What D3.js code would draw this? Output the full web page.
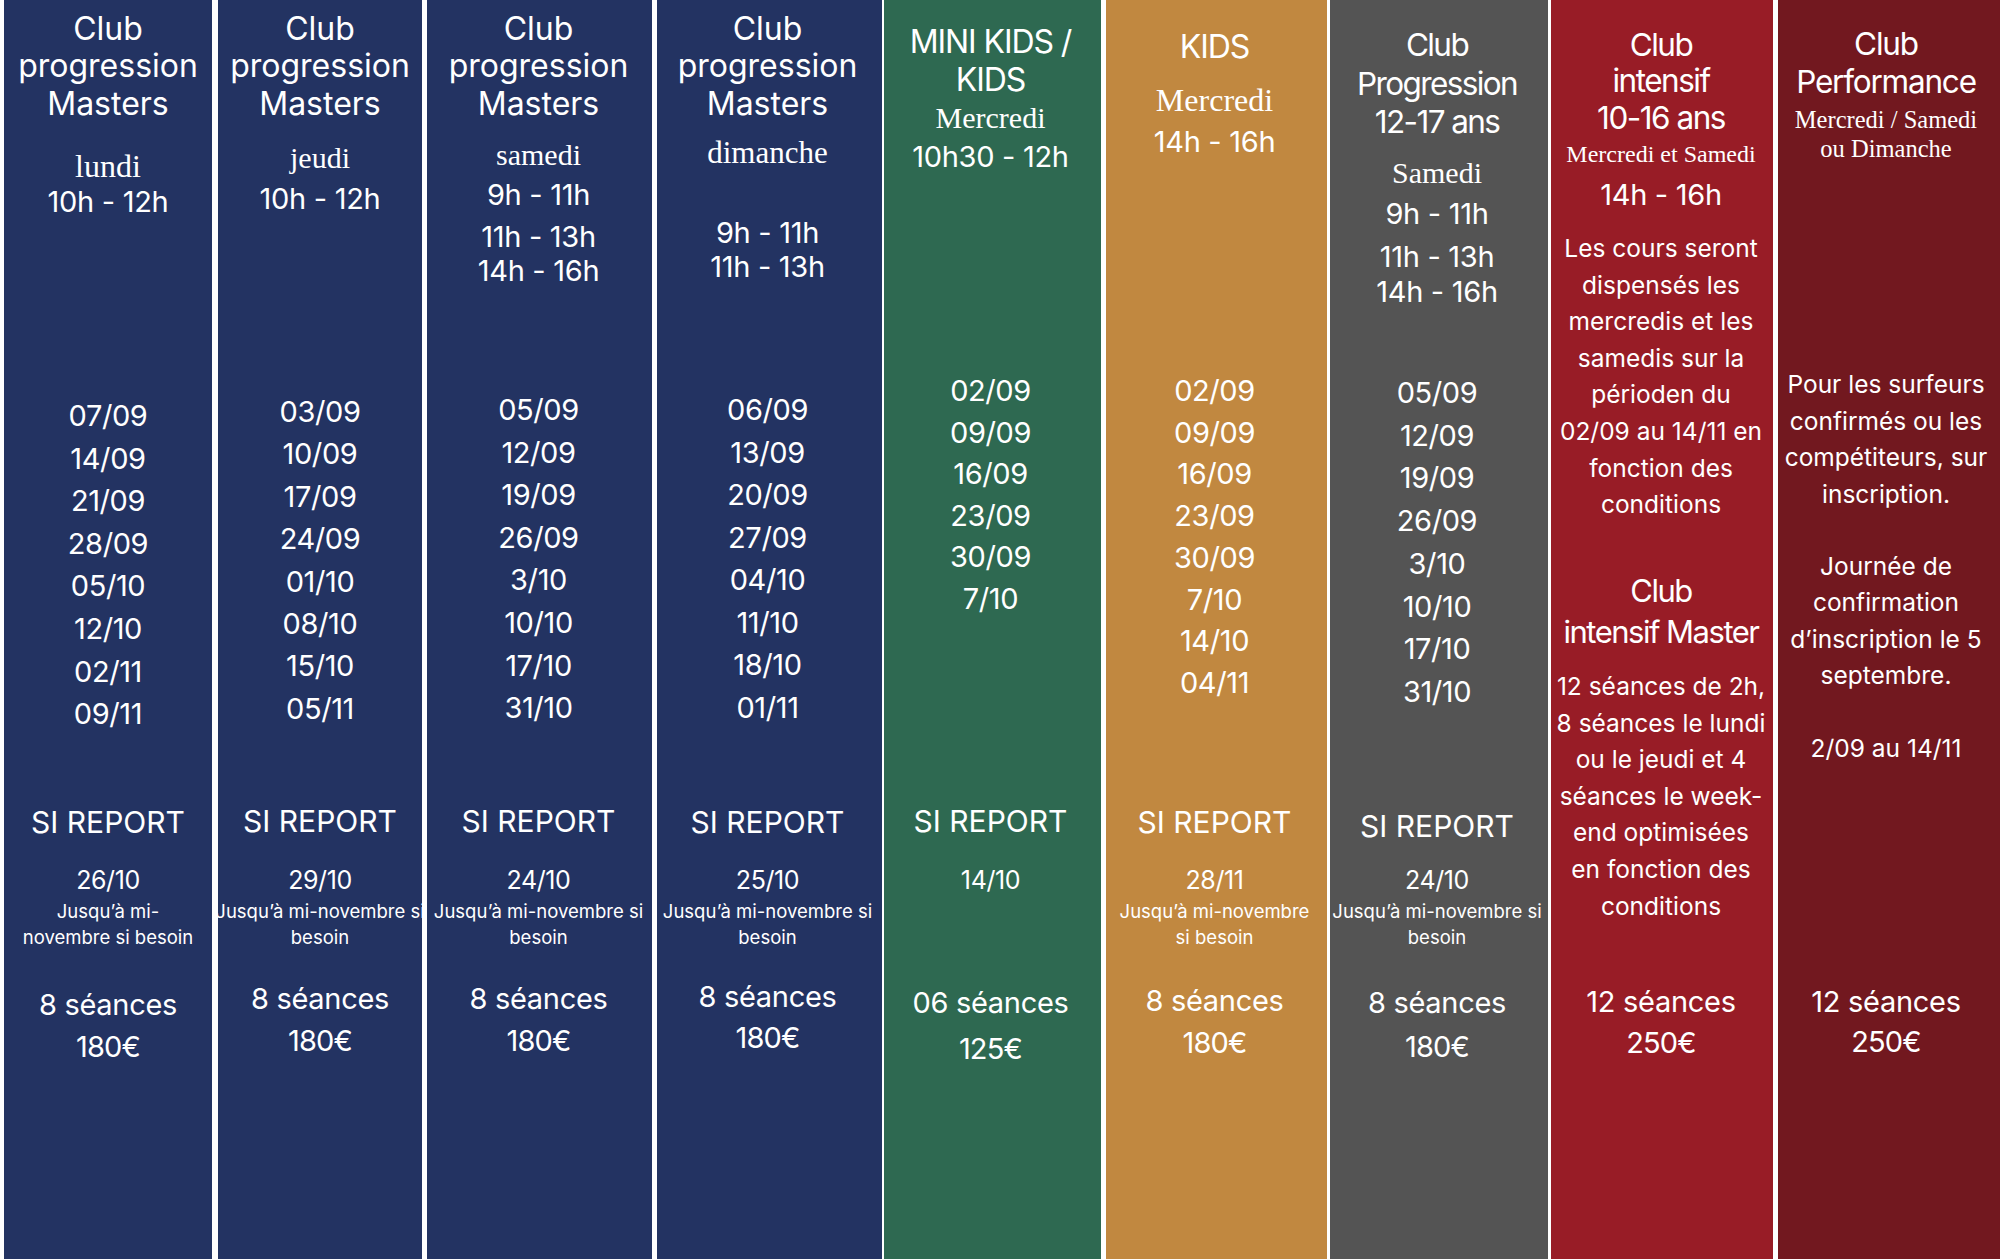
<!DOCTYPE html>
<html>
<head>
<meta charset="utf-8">
<script src="https://cdn.jsdelivr.net/npm/d3@7"></script>
<style>
  html, body { margin: 0; padding: 0; background: #ffffff; }
  svg { display: block; }
  .sans { font-family: Inter, "Noto Sans", sans-serif; fill: #ffffff; }
  .serif { font-family: "Liberation Serif", "DejaVu Serif", serif; fill: #ffffff; }
</style>
</head>
<body>
<svg id="chart" width="2000" height="1259"></svg>
<script>
// ---------------- DATA ----------------
const titles = [
  ["Club", "progression", "Masters"],
  ["Club", "progression", "Masters"],
  ["Club", "progression", "Masters"],
  ["Club", "progression", "Masters"],
  ["MINI KIDS /", "KIDS"],
  ["KIDS"],
  ["Club", "Progression", "12-17 ans"],
  ["Club", "intensif", "10-16 ans"],
  ["Club", "Performance"]
];
const days = [
  ["lundi"], ["jeudi"], ["samedi"], ["dimanche"], ["Mercredi"], ["Mercredi"],
  ["Samedi"], ["Mercredi et Samedi"], ["Mercredi / Samedi", "ou Dimanche"]
];
const hours = [
  ["10h - 12h"], ["10h - 12h"], ["9h - 11h", "11h - 13h", "14h - 16h"],
  ["9h - 11h", "11h - 13h"], ["10h30 - 12h"], ["14h - 16h"],
  ["9h - 11h", "11h - 13h", "14h - 16h"], ["14h - 16h"], []
];
const sessionDates = [
  ["07/09", "14/09", "21/09", "28/09", "05/10", "12/10", "02/11", "09/11"],
  ["03/09", "10/09", "17/09", "24/09", "01/10", "08/10", "15/10", "05/11"],
  ["05/09", "12/09", "19/09", "26/09", "3/10", "10/10", "17/10", "31/10"],
  ["06/09", "13/09", "20/09", "27/09", "04/10", "11/10", "18/10", "01/11"],
  ["02/09", "09/09", "16/09", "23/09", "30/09", "7/10"],
  ["02/09", "09/09", "16/09", "23/09", "30/09", "7/10", "14/10", "04/11"],
  ["05/09", "12/09", "19/09", "26/09", "3/10", "10/10", "17/10", "31/10"],
  [], []
];
const reportLabel = "SI REPORT";
const reportDates = ["26/10", "29/10", "24/10", "25/10", "14/10", "28/11", "24/10", null, null];
const reportNotes = [
  ["Jusqu’à mi-", "novembre si besoin"],
  ["Jusqu’à mi-novembre si", "besoin"],
  ["Jusqu’à mi-novembre si", "besoin"],
  ["Jusqu’à mi-novembre si", "besoin"],
  [],
  ["Jusqu’à mi-novembre", "si besoin"],
  ["Jusqu’à mi-novembre si", "besoin"],
  [], []
];
const sessionCounts = ["8 séances", "8 séances", "8 séances", "8 séances", "06 séances",
  "8 séances", "8 séances", "12 séances", "12 séances"];
const prices = ["180€", "180€", "180€", "180€", "125€", "180€", "180€", "250€", "250€"];
const intensifText = ["Les cours seront", "dispensés les", "mercredis et les", "samedis sur la",
  "périoden du", "02/09 au 14/11 en", "fonction des", "conditions"];
const masterTitle = ["Club", "intensif Master"];
const masterText = ["12 séances de 2h,", "8 séances le lundi", "ou le jeudi et 4",
  "séances le week-", "end optimisées", "en fonction des", "conditions"];
const performanceText = ["Pour les surfeurs", "confirmés ou les", "compétiteurs, sur", "inscription."];
const confirmationText = ["Journée de", "confirmation", "d’inscription le 5", "septembre."];
const performancePeriod = ["2/09 au 14/11"];

// ---------------- LAYOUT / STYLE ----------------
const colEdges = [[4, 212], [218, 422], [427, 652], [657, 882], [884, 1101],
  [1106, 1327], [1330, 1548], [1551, 1773], [1778, 2000]];
const colShift = [0, 0, -1, -2, -2, -2, -2, -1, -3];
const colColors = ["#233362", "#233362", "#233362", "#233362", "#2e6951",
  "#c18840", "#545454", "#981c26", "#72181f"];
const layout = [
  { title: [40, 77, 115], tSize: 32, tTrack: 0, day: [177], hours: [212], date0: 426, dStep: 42.6, rep: 833, repDate: 889, notes: [918, 944], count: 1015, price: 1057 },
  { title: [40, 77, 115], tSize: 32, tTrack: 0, day: [168], hours: [209], date0: 422, dStep: 42.4, rep: 832, repDate: 889, notes: [918, 944], count: 1009, price: 1051 },
  { title: [40, 77, 115], tSize: 32, tTrack: 0, day: [165], hours: [205, 247, 281], date0: 420, dStep: 42.6, rep: 832, repDate: 889, notes: [918, 944], count: 1009, price: 1051 },
  { title: [40, 77, 115], tSize: 32, tTrack: 0, day: [163], hours: [243, 277], date0: 420, dStep: 42.5, rep: 833, repDate: 889, notes: [918, 944], count: 1007, price: 1048 },
  { title: [53, 91], tSize: 32, tTrack: -1.1, day: [128], hours: [167], date0: 401, dStep: 41.6, rep: 832, repDate: 889, notes: [], count: 1013, price: 1059 },
  { title: [58], tSize: 32, tTrack: -1.1, day: [111], hours: [152], date0: 401, dStep: 41.7, rep: 833, repDate: 889, notes: [918, 944], count: 1011, price: 1053 },
  { title: [56, 95, 133], tSize: 31.5, tTrack: -1.6, day: [183], hours: [224, 267, 302], date0: 403, dStep: 42.7, rep: 837, repDate: 889, notes: [918, 944], count: 1013, price: 1057 },
  { title: [56, 92, 129], tSize: 31.5, tTrack: -1.5, day: [162], hours: [205], count: 1012, price: 1053 },
  { title: [55, 93], tSize: 31.5, tTrack: -1.2, day: [128, 157], hours: [], count: 1012, price: 1052 }
];
const daySize = [32, 30, 30, 31, 30, 32, 30, 24, 24.5];

const svg = d3.select("#chart");
const y = d3.scaleLinear().domain([0, 1259]).range([0, 1259]);

svg.append("rect").attr("width", 2000).attr("height", 1259).attr("fill", "#ffffff");

const defs = svg.append("defs");
colEdges.forEach((e, i) => {
  defs.append("clipPath").attr("id", "clip" + i)
    .append("rect").attr("x", e[0]).attr("y", 0).attr("width", e[1] - e[0]).attr("height", 1259);
});

const cols = svg.selectAll("g.col").data(colEdges).join("g")
  .attr("class", "col")
  .attr("clip-path", (d, i) => `url(#clip${i})`);

cols.append("rect")
  .attr("x", d => d[0]).attr("y", 0)
  .attr("width", d => d[1] - d[0]).attr("height", 1259)
  .attr("fill", (d, i) => colColors[i]);

function lines(g, arr, cx, ys, cls, size, track) {
  g.selectAll(null).data(arr).join("text")
    .attr("class", cls)
    .attr("x", cx)
    .attr("y", (d, k) => y(ys(k)))
    .attr("text-anchor", "middle")
    .attr("font-size", size)
    .attr("letter-spacing", track || 0)
    .text(d => d);
}

cols.each(function (e, i) {
  const g = d3.select(this);
  const cx = (e[0] + e[1]) / 2 + colShift[i];
  const L = layout[i];
  lines(g, titles[i], cx, k => L.title[k], "sans", L.tSize, L.tTrack);
  lines(g, days[i], cx, k => L.day[k], "serif", daySize[i], 0);
  lines(g, hours[i], cx, k => L.hours[k], "sans", 29, -0.3);
  lines(g, sessionDates[i], cx, k => L.date0 + k * L.dStep, "sans", 29, -0.4);
  if (reportDates[i]) {
    lines(g, [reportLabel], cx, k => L.rep, "sans", 30, 0);
    lines(g, [reportDates[i]], cx, k => L.repDate, "sans", 25, -0.4);
    lines(g, reportNotes[i], cx, k => L.notes[k], "sans", 18.5, 0);
  }
  lines(g, [sessionCounts[i]], cx, k => L.count, "sans", 29, -0.3);
  lines(g, [prices[i]], cx, k => L.price, "sans", 29, -0.8);
});

// Club intensif column extra text
{
  const e = colEdges[7], cx = (e[0] + e[1]) / 2 + colShift[7];
  const g = cols.filter((d, i) => i === 7);
  lines(g, intensifText, cx, k => 257 + k * 36.6, "sans", 24.5, 0);
  lines(g, masterTitle, cx, k => [602, 643][k], "sans", 31, -1.5);
  lines(g, masterText, cx, k => 695 + k * 36.6, "sans", 24.5, 0);
}
// Club performance column extra text
{
  const e = colEdges[8], cx = (e[0] + e[1]) / 2 + colShift[8];
  const g = cols.filter((d, i) => i === 8);
  lines(g, performanceText, cx, k => 393 + k * 36.7, "sans", 24.5, 0);
  lines(g, confirmationText, cx, k => 575 + k * 36.3, "sans", 24.5, 0);
  lines(g, performancePeriod, cx, k => 757, "sans", 24.5, 0);
}
</script>
</body>
</html>
